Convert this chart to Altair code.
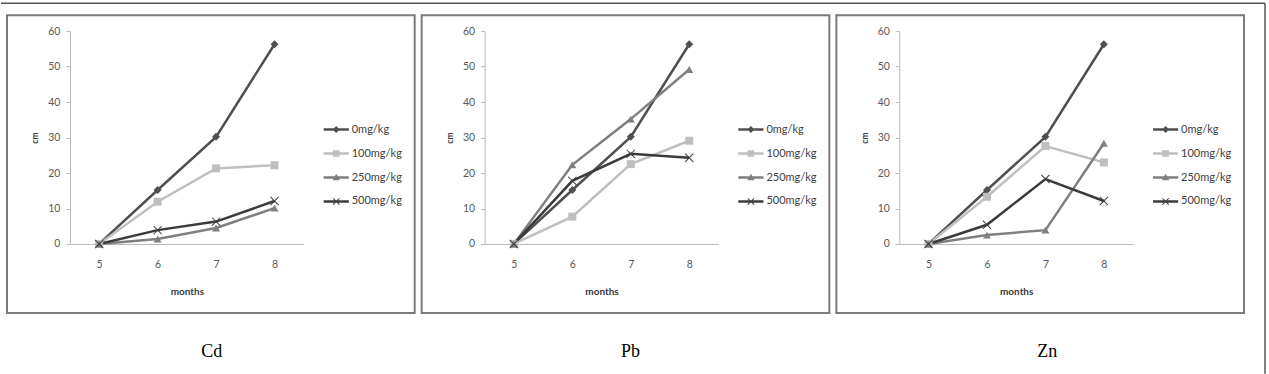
import math
import altair as alt
import pandas as pd

# ---------------- data ----------------
months = [5, 6, 7, 8]
series_names = ["0mg/kg", "100mg/kg", "250mg/kg", "500mg/kg"]
metals = ["Cd", "Pb", "Zn"]
captions = ["Cd", "Pb", "Zn"]

cd_0 = [0, 15.2, 30.2, 56.3]
cd_100 = [0, 11.9, 21.3, 22.2]
cd_250 = [0, 1.4, 4.5, 10.1]
cd_500 = [0, 3.9, 6.3, 12.1]

pb_0 = [0, 15.2, 30.2, 56.3]
pb_100 = [0, 7.7, 22.5, 29.1]
pb_250 = [0, 22.3, 35.2, 49.2]
pb_500 = [0, 17.8, 25.4, 24.3]

zn_0 = [0, 15.2, 30.2, 56.3]
zn_100 = [0, 13.3, 27.6, 23.0]
zn_250 = [0, 2.5, 3.9, 28.4]
zn_500 = [0, 5.4, 18.3, 12.1]

values_by_metal = {
    "Cd": [cd_0, cd_100, cd_250, cd_500],
    "Pb": [pb_0, pb_100, pb_250, pb_500],
    "Zn": [zn_0, zn_100, zn_250, zn_500],
}

series_colors = ["#4f4f4f", "#bfbfbf", "#7f7f7f", "#3b3b3b"]

rows = []
for metal in metals:
    for name, vals in zip(series_names, values_by_metal[metal]):
        for m, v in zip(months, vals):
            rows.append({"metal": metal, "series": name, "month": m, "cm": v})
long = pd.DataFrame(rows)

# ---------------- marker shapes ----------------
def x_poly(L=1.3, a=0.22, s=1.0):
    pts = [(-a, -L), (a, -L), (a, -a), (L, -a), (L, a), (a, a), (a, L), (-a, L),
           (-a, a), (-L, a), (-L, -a), (-a, -a)]
    r = []
    for (px, py) in pts:
        r.append(((px - py) / math.sqrt(2) * s, (px + py) / math.sqrt(2) * s))
    return "M" + " L".join(f"{p[0]:.3f},{p[1]:.3f}" for p in r) + " Z"

X_PATH = x_poly(L=1.45, a=0.12)
marker_shapes = ["diamond", "square", "triangle-up", X_PATH]

BAR = "M-3.6,-0.38 H3.6 V0.38 H-3.6 Z "
legend_shapes = [
    BAR + "M0,-1 L1,0 L0,1 L-1,0 Z",
    BAR + "M-0.95,-0.95 H0.95 V0.95 H-0.95 Z",
    BAR + "M0,-1.05 L1.05,0.8 L-1.05,0.8 Z",
    BAR + x_poly(L=1.3, a=0.14),
]

caption_x = [142, 146, 148]

LABEL_FONT = "Lato"
one = alt.Data(values=[{}])


def panel(idx, metal, caption, first):
    df = long[long.metal == metal]
    base = alt.Chart(df)
    x = alt.X(
        "month:O",
        axis=alt.Axis(
            title="months", labelAngle=0, ticks=False, domainColor="#b8b8b8",
            labelFont=LABEL_FONT, labelFontSize=10.5, labelColor="#595959",
            labelPadding=16, titleFont=LABEL_FONT, titleFontSize=10,
            titleFontWeight="bold", titleColor="#3a3a3a", titlePadding=16,
        ),
    )
    y = alt.Y(
        "cm:Q",
        scale=alt.Scale(domain=[0, 60], nice=False),
        axis=alt.Axis(
            title="cm", values=list(range(0, 61, 10)), grid=False,
            domainColor="#b8b8b8", tickColor="#b8b8b8", tickSize=4,
            labelFont=LABEL_FONT, labelFontSize=10.5, labelColor="#595959",
            labelPadding=6, titleFont=LABEL_FONT, titleFontSize=8.5,
            titleFontWeight="bold", titleColor="#3a3a3a", titlePadding=8,
        ),
    )
    color_nolegend = alt.Color(
        "series:N", scale=alt.Scale(domain=series_names, range=series_colors), legend=None
    )
    lines = base.mark_line(strokeWidth=2.5).encode(x=x, y=y, color=color_nolegend)
    markers = base.mark_point(filled=True, opacity=1, size=64).encode(
        x=x, y=y, color=color_nolegend,
        shape=alt.Shape("series:N", scale=alt.Scale(domain=series_names, range=marker_shapes), legend=None),
    )
    leg = alt.Legend(
        title=None, orient="none", legendX=261, legendY=93, symbolSize=49,
        symbolStrokeWidth=0, labelFont=LABEL_FONT, labelFontSize=11,
        labelColor="#404040", labelOffset=10, rowPadding=12, padding=0,
    )
    legend_layer = base.transform_filter("false").mark_point(filled=True, opacity=1).encode(
        x=x, y=y,
        color=alt.Color("series:N", scale=alt.Scale(domain=series_names, range=series_colors), legend=leg),
        shape=alt.Shape("series:N", scale=alt.Scale(domain=series_names, range=legend_shapes), legend=leg),
    )
    box = alt.Chart(one).mark_rect(fill="transparent", stroke="#7a7a7a", strokeWidth=2).encode(
        x=alt.value(-63), x2=alt.value(345), y=alt.value(-16), y2=alt.value(282)
    )
    cap = alt.Chart(alt.Data(values=[{"caption": caption}])).mark_text(
        font="Liberation Serif", fontSize=18, color="black", align="center", baseline="middle"
    ).encode(x=alt.value(caption_x[idx]), y=alt.value(321), text="caption:N")

    layers = [box, lines, markers, legend_layer, cap]
    if first:
        full = alt.Chart(one).mark_rect(fill="transparent").encode(
            x=alt.value(-69), x2=alt.value(1200), y=alt.value(-31), y2=alt.value(343)
        )
        top_line = alt.Chart(one).mark_rule(stroke="#555555", strokeWidth=1.5).encode(
            x=alt.value(-69), x2=alt.value(1196), y=alt.value(-28)
        )
        right_line = alt.Chart(one).mark_rule(stroke="#555555", strokeWidth=1.5).encode(
            x=alt.value(1196), y=alt.value(-28), y2=alt.value(343)
        )
        layers = [full, top_line, right_line] + layers
    return alt.layer(*layers).resolve_scale(color="independent", shape="independent").properties(
        width=234, height=213
    )


panels = [panel(i, m, c, i == 0) for i, (m, c) in enumerate(zip(metals, captions))]

chart = (
    alt.hconcat(*panels, spacing=181, bounds="flush")
    .resolve_scale(color="independent", shape="independent")
    .properties(padding=0, background="white")
    .configure_view(stroke=None)
)

chart.save("out.html", embed_options={"renderer": "svg", "actions": False})
